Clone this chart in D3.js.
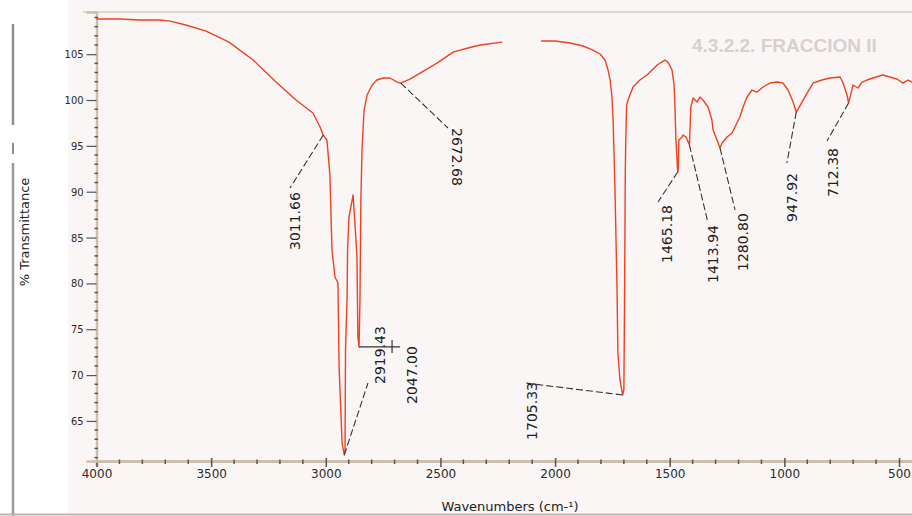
<!DOCTYPE html>
<html>
<head>
<meta charset="utf-8">
<script src="https://cdn.jsdelivr.net/npm/d3@7/dist/d3.min.js"></script>
<style>
  html, body { margin: 0; padding: 0; background: #fbf6f6; }
  #chart { width: 912px; height: 516px; }
</style>
</head>
<body>
<div id="chart"></div>
<script>
// IR spectrum: % transmittance against wavenumber (cm-1)
// null marks the stretch where the trace is missing

const wavenumbers = [
  4000, 3898, 3810, 3723, 3679, 3610, 3522, 3422, 3317, 3217, 3130, 3056, 3025, 3011, 2995,
  2982, 2973, 2960, 2947, 2942, 2929, 2919.4, 2916, 2914, 2907, 2905, 2899, 2881, 2873, 2864,
  2860, 2855, 2851, 2847, 2842, 2833, 2820, 2798, 2777, 2750, 2720, 2689, 2673, 2633, 2589,
  2515, 2445, 2380, 2327, 2231, 2150, 2061, 2000, 1935, 1878, 1835, 1804, 1782, 1769, 1760,
  1752, 1747, 1739, 1730, 1726, 1717, 1705.3, 1700, 1697, 1694, 1692, 1688, 1682, 1660, 1630,
  1599, 1555, 1521, 1508, 1490, 1481, 1477, 1473, 1465.2, 1463, 1460, 1446, 1442, 1429, 1414,
  1408, 1398, 1381, 1368, 1355, 1333, 1316, 1311, 1294, 1280.8, 1272, 1250, 1228, 1207, 1194,
  1180, 1163, 1141, 1119, 1093, 1063, 1032, 1006, 984, 962, 947.9, 923, 901, 875, 836,
  801, 757, 744, 727, 720, 709, 701, 679, 661, 640, 614, 570, 540, 509, 483,
  461, 443, 420
];

const transmittance = [
  108.83, 108.83, 108.72, 108.72, 108.61, 108.18, 107.52, 106.32, 104.36, 101.96, 100.0, 98.58, 97.06, 96.18, 95.64,
  91.82, 83.64, 80.70, 80.05, 70.89, 62.60, 61.29, 61.84, 72.74, 78.52, 83.64, 87.24, 89.64, 86.59, 82.88,
  74.16, 73.07, 78.19, 89.10, 94.55, 98.91, 100.55, 101.64, 102.18, 102.40, 102.40, 101.96, 101.85, 102.29, 102.94,
  104.03, 105.23, 105.67, 106.00, 106.32, null, 106.43, 106.43, 106.22, 105.89, 105.45, 105.02, 104.36, 103.27, 102.18,
  100.33, 97.82, 90.51, 79.61, 72.41, 69.47, 67.83, 68.38, 78.19, 91.60, 95.31, 99.45, 100.0, 101.42, 102.18,
  102.73, 103.82, 104.36, 104.14, 103.27, 101.64, 99.24, 95.64, 92.15, 92.37, 95.64, 95.97, 96.18, 95.97, 95.09,
  99.24, 100.22, 99.78, 100.33, 100.0, 99.24, 97.82, 96.73, 95.64, 94.77, 95.31, 95.97, 96.40, 97.49, 98.15,
  99.24, 100.33, 101.09, 100.87, 101.42, 101.85, 101.96, 101.85, 101.09, 99.78, 98.69, 99.78, 100.76, 101.85, 102.18,
  102.40, 102.51, 101.85, 100.55, 99.67, 100.76, 101.64, 101.31, 101.96, 102.18, 102.40, 102.73, 102.51, 102.29, 101.85,
  102.18, 101.96, 102.2
];

const xMajorTicks = [4000, 3500, 3000, 2500, 2000, 1500, 1000, 500];
const yMajorTicks = [65, 70, 75, 80, 85, 90, 95, 100, 105];

// peak labels: text, point on the trace, far end of the leader, label foot
const peakLabels  = ['3011.66', '2672.68', '2919.43', '2047.00', '1705.33', '1465.18', '1413.94', '1280.80', '947.92', '712.38'];
const peakWn      = [3011, 2673, 2919.4, 2855, 1705.3, 1465.2, 1414, 1280.8, 947.9, 720];
const peakT       = [96.18, 101.85, 61.29, 73.07, 67.83, 92.15, 95.09, 94.77, 98.69, 99.67];
const leaderWn    = [3156, 2467, 2816, 2676, 2131, 1551, 1333, 1215, 989, 814];
const leaderT     = [90.40, 96.95, 69.14, 73.07, 69.14, 88.88, 86.59, 88.01, 93.13, 95.53];
const labelWn     = [3134, 2428, 2764, 2624, 2101, 1512, 1311, 1180, 967, 788];
const labelT      = [83.64, 96.95, 69.03, 66.85, 62.93, 82.23, 80.05, 81.35, 86.70, 89.42];
const labelRotate = [-90, 90, -90, -90, -90, -90, -90, -90, -90, -90];

const width = 912, height = 516;
const plotLeft = 96.5, plotTop = 12, plotBottom = 461;

const svg = d3.select('#chart')
  .append('svg')
  .attr('width', width)
  .attr('height', height)
  .style('display', 'block');

// paper: white margin on the left, faint pink elsewhere
svg.append('rect').attr('width', width).attr('height', height).attr('fill', '#fbf6f6');
svg.append('rect').attr('width', 68).attr('height', height).attr('fill', '#ffffff');

// heading showing through from the next page of the scan
svg.append('text')
  .attr('x', 692).attr('y', 52)
  .attr('font-family', 'Liberation Sans, Arial, sans-serif')
  .attr('font-weight', 'bold')
  .attr('font-size', 19)
  .attr('fill', '#d9cfcf')
  .text('4.3.2.2. FRACCION II');

// scan edges
svg.append('line').attr('x1', 13).attr('x2', 13).attr('y1', 24).attr('y2', 125)
  .attr('stroke', '#8f8f8f').attr('stroke-width', 2.5);
svg.append('line').attr('x1', 13).attr('x2', 13).attr('y1', 143).attr('y2', 154)
  .attr('stroke', '#8f8f8f').attr('stroke-width', 2);
svg.append('line').attr('x1', 13).attr('x2', 13).attr('y1', 163).attr('y2', 516)
  .attr('stroke', '#9a9a9a').attr('stroke-width', 2.5);
svg.append('line').attr('x1', 0).attr('x2', width).attr('y1', 514.5).attr('y2', 514.5)
  .attr('stroke', '#bdb6b2').attr('stroke-width', 2);

// scales (the right end of the x range runs past the page)
const x = d3.scaleLinear().domain([4000, 400]).range([plotLeft, plotLeft + 3600 * 0.22929]);
const y = d3.scaleLinear().domain([60.63, 109.6]).range([plotBottom, plotTop]);

// top frame
svg.append('line').attr('x1', 83).attr('x2', width).attr('y1', plotTop).attr('y2', plotTop)
  .attr('stroke', '#d6ccc2').attr('stroke-width', 1.5);

// x axis
const xAxis = svg.append('g')
  .attr('transform', `translate(0,${plotBottom})`)
  .call(d3.axisBottom(x).tickValues(xMajorTicks).tickSize(6).tickPadding(2).tickFormat(d3.format('d')));
xAxis.select('.domain').attr('stroke', '#cdbfae').attr('stroke-width', 3);
xAxis.selectAll('.tick line').attr('y1', -3).attr('stroke', '#555').attr('stroke-width', 1.5);
xAxis.selectAll('.tick text')
  .attr('font-family', 'DejaVu Sans, sans-serif').attr('font-size', 12).attr('fill', '#2a2a2a');

svg.append('g').selectAll('line')
  .data(d3.range(3900, 400, -100).filter(d => d % 500 !== 0))
  .join('line')
  .attr('x1', d => x(d)).attr('x2', d => x(d))
  .attr('y1', plotBottom - 1.5).attr('y2', plotBottom + 3)
  .attr('stroke', '#555').attr('stroke-width', 1.5);

// y axis
const yAxis = svg.append('g')
  .attr('transform', `translate(${plotLeft},0)`)
  .call(d3.axisLeft(y).tickValues(yMajorTicks).tickSize(10).tickPadding(3).tickFormat(d3.format('d')));
yAxis.select('.domain').attr('stroke', '#cdbfae').attr('stroke-width', 2.5);
yAxis.selectAll('.tick line').attr('stroke', '#555').attr('stroke-width', 1.2);
yAxis.selectAll('.tick text')
  .attr('font-family', 'DejaVu Sans Condensed, DejaVu Sans, sans-serif').attr('font-size', 11).attr('fill', '#2a2a2a');

svg.append('g').selectAll('line')
  .data(d3.range(61, 110, 1).filter(d => d % 5 !== 0))
  .join('line')
  .attr('x1', plotLeft - 2).attr('x2', plotLeft + 1.5)
  .attr('y1', d => y(d)).attr('y2', d => y(d))
  .attr('stroke', '#555').attr('stroke-width', 1.5);

// axis titles
svg.append('text')
  .attr('transform', 'translate(24,232) rotate(-90)')
  .attr('text-anchor', 'middle')
  .attr('dy', '0.35em')
  .attr('font-family', 'DejaVu Sans, sans-serif')
  .attr('font-size', 13)
  .attr('fill', '#222')
  .text('% Transmittance');

svg.append('text')
  .attr('x', 510).attr('y', 511)
  .attr('text-anchor', 'middle')
  .attr('font-family', 'DejaVu Sans, sans-serif')
  .attr('font-size', 13)
  .attr('fill', '#222')
  .text('Wavenumbers (cm-\u00b9)');

// spectrum
const spectrum = wavenumbers.map((w, i) => ({ w: w, t: transmittance[i] }));
const line = d3.line()
  .defined(d => d.t !== null)
  .x(d => x(d.w))
  .y(d => y(d.t));

svg.append('path')
  .datum(spectrum)
  .attr('fill', 'none')
  .attr('stroke', '#f0401e')
  .attr('stroke-width', 1.4)
  .attr('stroke-linejoin', 'round')
  .attr('d', line);

// peak annotations
const ann = svg.append('g');
peakLabels.forEach((label, i) => {
  if (label === '2047.00') {
    // this one is tied to the 2850 band with a flat leader and a tick
    ann.append('line')
      .attr('x1', x(peakWn[i])).attr('y1', y(peakT[i]))
      .attr('x2', x(leaderWn[i])).attr('y2', y(leaderT[i]))
      .attr('stroke', '#333').attr('stroke-width', 1.2);
    ann.append('line')
      .attr('x1', x(2711)).attr('x2', x(2711))
      .attr('y1', y(73.84)).attr('y2', y(72.42))
      .attr('stroke', '#333').attr('stroke-width', 1.2);
  } else {
    ann.append('line')
      .attr('x1', x(peakWn[i])).attr('y1', y(peakT[i]))
      .attr('x2', x(leaderWn[i])).attr('y2', y(leaderT[i]))
      .attr('stroke', '#333').attr('stroke-width', 1.1)
      .attr('stroke-dasharray', '7,3');
  }
  ann.append('text')
    .attr('transform', `translate(${x(labelWn[i])},${y(labelT[i])}) rotate(${labelRotate[i]})`)
    .attr('dy', '0.35em')
    .attr('font-family', 'DejaVu Sans, sans-serif')
    .attr('font-size', 14)
    .attr('fill', '#1e1e1e')
    .text(label);
});
</script>
</body>
</html>
